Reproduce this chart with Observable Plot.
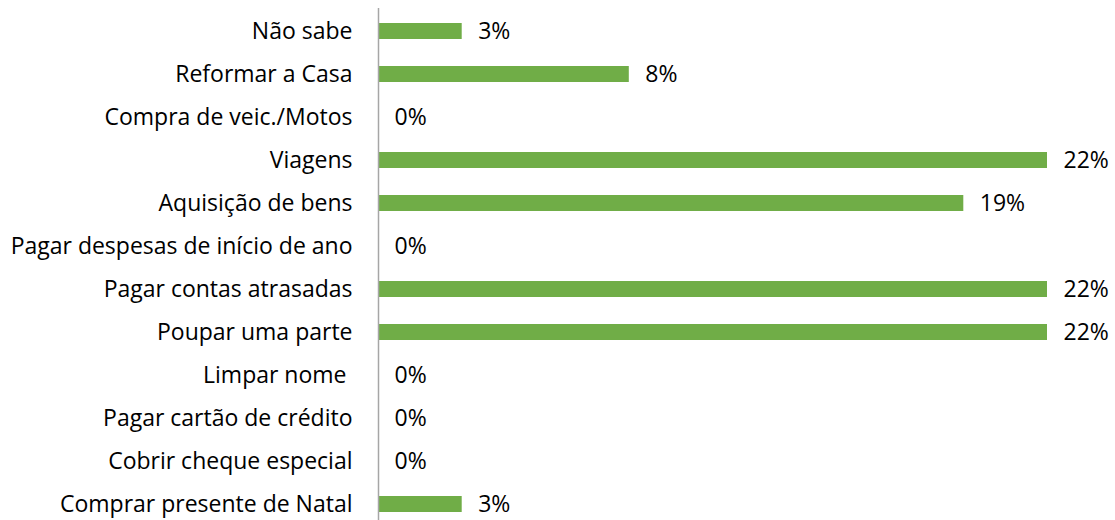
<!DOCTYPE html>
<html>
<head>
<meta charset="utf-8">
<script src="https://cdn.jsdelivr.net/npm/d3@7"></script>
<script src="https://cdn.jsdelivr.net/npm/@observablehq/plot@0.6"></script>
<style>
html, body { margin: 0; padding: 0; background: #fff; overflow: hidden; }
</style>
</head>
<body>
<div id="chart"></div>
<script>
const categories = [
  "Não sabe",
  "Reformar a Casa",
  "Compra de veic./Motos",
  "Viagens",
  "Aquisição de bens",
  "Pagar despesas de início de ano",
  "Pagar contas atrasadas",
  "Poupar uma parte",
  "Limpar nome ",
  "Pagar cartão de crédito",
  "Cobrir cheque especial",
  "Comprar presente de Natal"
];
const values = [2.78, 8.33, 0, 22.22, 19.44, 0, 22.22, 22.22, 0, 0, 0, 2.78];

const data = categories.map((c, i) => ({category: c, value: values[i]}));

const chart = Plot.plot({
  width: 1115,
  height: 526,
  marginLeft: 378,
  marginRight: 68,
  marginTop: 8,
  marginBottom: 0,
  style: {fontFamily: "'Open Sans', sans-serif", fontSize: "23px", color: "#000", background: "#fff"},
  x: {domain: [0, 22.22], axis: null},
  y: {domain: categories, paddingInner: 0.63, paddingOuter: 0.315, label: null},
  marks: [
    Plot.axisY({tickSize: 0, tickPadding: 26, fontSize: 23, label: null, fill: "#000"}),
    Plot.barX(data, {x: "value", y: "category", fill: "#70ad47"}),
    Plot.ruleX([0], {stroke: "#a6a6a6", strokeWidth: 1.5}),
    Plot.text(data, {x: "value", y: "category", text: d => Math.round(d.value) + "%", dx: 16, textAnchor: "start", fontSize: 23, fill: "#000"})
  ]
});
document.getElementById("chart").appendChild(chart);
</script>
</body>
</html>
